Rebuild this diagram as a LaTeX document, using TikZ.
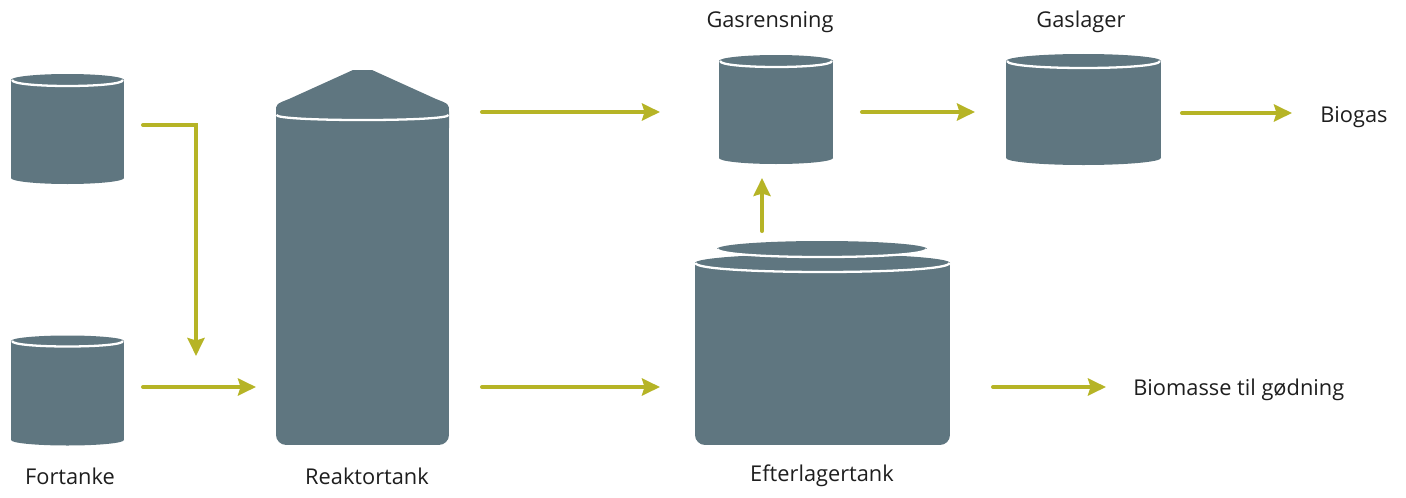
\documentclass[tikz,border=0pt]{standalone}
\usepackage{fontspec}
\setmainfont{Open Sans}
\usepackage{tikz}
\usetikzlibrary{arrows.meta}
\definecolor{TankGrey}{RGB}{95,118,128}
\definecolor{FlowOlive}{RGB}{182,180,38}
\definecolor{LabelGrey}{RGB}{30,30,30}
\tikzset{
  tankbody/.style={fill=TankGrey, draw=none, inner sep=0pt, outer sep=0pt},
  rim/.style={draw=white, line width=1.3pt},
  flow/.style={-{Stealth[length=0.36cm, width=0.34cm, inset=0.05cm]}, line width=2.3pt,
    line cap=round, FlowOlive},
  tanklabel/.style={font=\fontsize{12.4}{14}\selectfont, text=LabelGrey, inner sep=0pt},
}
% drum: name, centre x, top y, bottom y, x radius, y radius (all in px units)
\newcommand{\drum}[6]{%
  \pgfmathsetmacro{\dw}{2*#5*0.02}%
  \pgfmathsetmacro{\dh}{(#4-#3)*0.02}%
  \node[tankbody, minimum width=\dw cm, minimum height=\dh cm] (#1) at (#2,{(#3+#4)/2}) {};
  \fill[TankGrey] (#1.south) ellipse [x radius=#5, y radius=#6];
  \fill[TankGrey] (#1.north) ellipse [x radius=#5, y radius=#6];
  \draw[rim] ([xshift=0.6pt]#1.north west) .. controls +(0,{4/3*#6}) and +(0,{4/3*#6}) .. ([xshift=-0.6pt]#1.north east);
}

\begin{document}
\begin{tikzpicture}[x=0.02cm, y=-0.02cm]
  \useasboundingbox (0,0) rectangle (1406,497);

  % small drums
  \drum{fortA}{67.5}{80}{178}{56.5}{6}
  \drum{fortB}{67.5}{341}{440}{56.5}{5.5}
  \drum{gasr}{776}{61}{158}{57}{6}
  \drum{gasl}{1083.5}{61}{158}{77.5}{7}

  % reactor
  \node[tankbody, rounded corners=0.2cm, minimum width=3.46cm, minimum height=6.7cm] (reak) at (362.5,110) [anchor=north] {};
  \fill[TankGrey] (276,128) -- (276,112) .. controls (276,104) .. (289,99) -- (353,70) -- (372,70)
    -- (436,99) .. controls (449,104) .. (449,112) -- (449,128) -- cycle;
  \draw[rim] (276.5,115) .. controls (276.5,121.7) and (448.5,121.7) .. (448.5,115);

  % after-storage tank
  \node[tankbody, rounded corners=0.2cm, minimum width=5.1cm, minimum height=3.64cm] (eft) at (822.5,263) [anchor=north] {};
  \fill[TankGrey] (695,263) rectangle (950,285);
  \fill[TankGrey] (822.5,263) ellipse [x radius=127.5, y radius=9];
  \draw[rim] (695.5,263) .. controls (695.5,275) and (949.5,275) .. (949.5,263);
  \fill[TankGrey] (822,249) ellipse [x radius=105, y radius=8];
  \draw[rim] (717.5,249) .. controls (717.5,259.7) and (926.5,259.7) .. (926.5,249);

  % labels
  \node[tanklabel] (lfort) at (70,476) {Fortanke};
  \node[tanklabel] (lreak) at (367,476) {Reaktortank};
  \node[tanklabel] (left) at (822,476) {Efterlagertank};
  \node[tanklabel] (lgasr) at (770,22) {Gasrensning};
  \node[tanklabel] (lgasl) at (1081,22) {Gaslager};
  \node[tanklabel, anchor=west] (lbiogas) at (1320,117) {Biogas};
  \node[tanklabel, anchor=west] (lbiomasse) at (1133,390) {Biomasse til gødning};

  % flow ports
  \coordinate (fortA-out) at (143,125);
  \coordinate (fortA-in) at (196,356);
  \coordinate (fortB-out) at (143,387);
  \coordinate (reak-in) at (256,387);
  \coordinate (reak-gas) at (482,112);
  \coordinate (gasr-in) at (660,112);
  \coordinate (reak-out) at (482,387);
  \coordinate (eft-in) at (660,387);
  \coordinate (eft-gas) at (762,231);
  \coordinate (gasr-bot) at (762,178);
  \coordinate (gasr-out) at (862,112);
  \coordinate (gasl-in) at (975,112);
  \coordinate (gasl-out) at (1182,113);
  \coordinate (biogas-in) at (1292,113);
  \coordinate (eft-out) at (993,387);
  \coordinate (biomasse-in) at (1106,387);

  \draw[flow] (fortA-out) -| (fortA-in);
  \draw[flow] (fortB-out) -- (reak-in);
  \draw[flow] (reak-gas) -- (gasr-in);
  \draw[flow] (reak-out) -- (eft-in);
  \draw[flow] (eft-gas) -- (gasr-bot);
  \draw[flow] (gasr-out) -- (gasl-in);
  \draw[flow] (gasl-out) -- (biogas-in);
  \draw[flow] (eft-out) -- (biomasse-in);
\end{tikzpicture}
\end{document}
